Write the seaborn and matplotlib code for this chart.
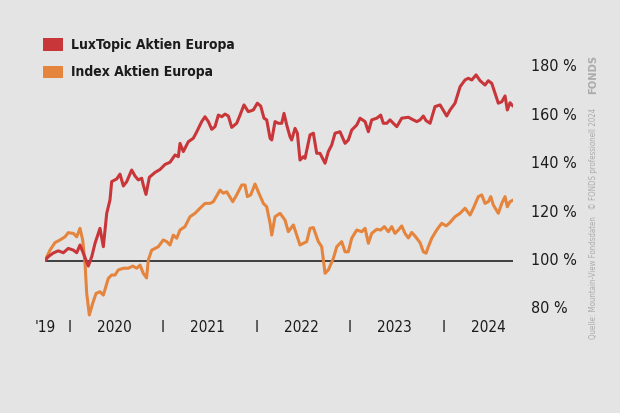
import matplotlib
matplotlib.use("Agg")
import matplotlib.pyplot as plt
import matplotlib.transforms as mtransforms
from matplotlib import font_manager as fm
from matplotlib.patches import Rectangle
import seaborn as sns
import pandas as pd

# ---------------- data (fractional year, percent) ----------------
lux_t = [2019.740, 2019.775, 2019.829, 2019.882, 2019.936, 2019.989, 2020.043, 2020.079, 2020.114, 2020.150,
         2020.203, 2020.240, 2020.275, 2020.328, 2020.364, 2020.400, 2020.435, 2020.453, 2020.507, 2020.542,
         2020.578, 2020.614, 2020.667, 2020.703, 2020.738, 2020.774, 2020.791, 2020.820, 2020.856, 2020.917,
         2020.970, 2021.024, 2021.077, 2021.131, 2021.166, 2021.184, 2021.219, 2021.273, 2021.326, 2021.363,
         2021.416, 2021.451, 2021.487, 2021.523, 2021.558, 2021.594, 2021.630, 2021.665, 2021.701, 2021.737,
         2021.790, 2021.826, 2021.868, 2021.914, 2021.968, 2022.011, 2022.047, 2022.082, 2022.111, 2022.147,
         2022.165, 2022.200, 2022.235, 2022.272, 2022.296, 2022.325, 2022.360, 2022.378, 2022.414, 2022.439,
         2022.467, 2022.503, 2022.521, 2022.574, 2022.610, 2022.646, 2022.681, 2022.735, 2022.770, 2022.806,
         2022.842, 2022.895, 2022.949, 2022.984, 2023.020, 2023.074, 2023.109, 2023.163, 2023.198, 2023.234,
         2023.288, 2023.330, 2023.358, 2023.395, 2023.430, 2023.465, 2023.502, 2023.555, 2023.626, 2023.679,
         2023.716, 2023.751, 2023.786, 2023.815, 2023.858, 2023.911, 2023.965, 2024.036, 2024.072, 2024.125,
         2024.179, 2024.232, 2024.267, 2024.304, 2024.350, 2024.393, 2024.446, 2024.481, 2024.518, 2024.553,
         2024.588, 2024.625, 2024.660, 2024.684, 2024.713, 2024.745]
lux_v = [100.0, 101.6, 103.1, 104.0, 103.2, 105.0, 104.3, 103.2, 106.4, 103.0,
         97.7, 101.6, 107.1, 113.3, 105.7, 119.5, 125.0, 132.6, 133.7, 135.7,
         130.8, 132.6, 137.4, 134.9, 133.3, 134.0, 131.2, 127.3, 134.4, 136.4,
         137.6, 139.7, 140.6, 143.6, 142.9, 148.4, 145.0, 149.1, 150.5, 153.2,
         157.4, 159.4, 157.4, 154.2, 155.3, 160.1, 159.4, 160.5, 159.7, 155.0,
         156.7, 160.1, 164.3, 161.5, 162.2, 165.0, 163.8, 158.8, 158.1, 150.5,
         149.8, 157.4, 156.7, 156.7, 160.8, 156.0, 151.2, 149.8, 154.6, 152.6,
         141.5, 142.9, 142.2, 151.9, 152.6, 144.3, 144.3, 140.2, 145.0, 147.7,
         152.6, 153.2, 148.4, 149.8, 153.9, 156.0, 158.8, 157.4, 153.2, 158.1,
         158.8, 160.1, 156.7, 156.7, 158.1, 156.7, 155.3, 158.8, 159.2, 158.1,
         157.4, 158.1, 159.7, 157.8, 156.7, 163.6, 164.3, 159.7, 162.2, 165.0,
         171.8, 174.6, 175.3, 174.6, 176.7, 174.3, 172.5, 174.3, 173.2, 169.1,
         165.0, 165.6, 168.0, 162.2, 165.2, 163.8]

idx_t = [2019.740, 2019.794, 2019.847, 2019.901, 2019.954, 2019.989, 2020.043, 2020.079, 2020.114, 2020.143,
         2020.168, 2020.186, 2020.214, 2020.250, 2020.286, 2020.328, 2020.364, 2020.417, 2020.453, 2020.489,
         2020.524, 2020.578, 2020.631, 2020.678, 2020.721, 2020.756, 2020.791, 2020.826, 2020.845, 2020.881,
         2020.917, 2020.952, 2021.005, 2021.042, 2021.077, 2021.112, 2021.149, 2021.184, 2021.237, 2021.291,
         2021.344, 2021.398, 2021.451, 2021.505, 2021.540, 2021.612, 2021.647, 2021.683, 2021.748, 2021.790,
         2021.844, 2021.879, 2021.904, 2021.940, 2021.986, 2022.021, 2022.075, 2022.111, 2022.147, 2022.165,
         2022.200, 2022.254, 2022.307, 2022.342, 2022.396, 2022.432, 2022.467, 2022.503, 2022.539, 2022.574,
         2022.610, 2022.663, 2022.699, 2022.735, 2022.770, 2022.824, 2022.860, 2022.913, 2022.949, 2022.984,
         2023.020, 2023.074, 2023.127, 2023.163, 2023.198, 2023.234, 2023.288, 2023.330, 2023.369, 2023.412,
         2023.448, 2023.483, 2023.519, 2023.555, 2023.590, 2023.626, 2023.662, 2023.697, 2023.751, 2023.786,
         2023.815, 2023.840, 2023.876, 2023.929, 2023.983, 2024.029, 2024.064, 2024.125, 2024.179, 2024.232,
         2024.286, 2024.321, 2024.374, 2024.411, 2024.446, 2024.481, 2024.507, 2024.535, 2024.588, 2024.625,
         2024.660, 2024.684, 2024.713, 2024.749]
idx_v = [100.0, 104.3, 107.4, 108.5, 109.8, 111.5, 111.2, 109.8, 113.3, 108.5,
         98.8, 86.4, 77.5, 82.3, 86.4, 87.1, 85.7, 92.6, 94.0, 94.0,
         96.1, 96.8, 96.8, 97.7, 96.8, 98.1, 94.7, 92.8, 100.2, 104.3,
         105.0, 105.7, 108.5, 107.8, 106.4, 110.5, 109.2, 112.6, 114.0, 118.1,
         119.5, 121.6, 123.6, 123.6, 124.3, 129.1, 127.8, 128.4, 124.3, 127.1,
         131.2, 131.2, 126.4, 127.1, 131.6, 128.4, 123.6, 122.2, 115.4, 110.5,
         118.1, 119.5, 116.7, 111.9, 114.7, 110.5, 106.4, 107.1, 107.8, 113.3,
         113.6, 107.8, 105.7, 94.7, 96.1, 100.9, 105.7, 107.8, 103.6, 103.6,
         109.2, 112.6, 111.9, 113.3, 107.1, 111.2, 112.9, 112.6, 114.0, 111.9,
         114.0, 111.2, 112.6, 114.3, 111.2, 109.3, 111.6, 110.1, 107.4, 103.6,
         103.0, 105.7, 109.2, 112.6, 115.4, 114.3, 115.4, 118.1, 119.5, 121.6,
         118.8, 121.6, 126.4, 127.1, 123.6, 124.3, 126.4, 122.9, 119.5, 123.6,
         126.4, 122.2, 124.3, 125.0]

series_names = ["LuxTopic Aktien Europa", "Index Aktien Europa"]
y_ticks = [80, 100, 120, 140, 160, 180]
year_labels = ["2020", "2021", "2022", "2023", "2024"]
year_starts = [2020, 2021, 2022, 2023, 2024]
start_label = "'19"
source_text = "Quelle: Mountain-View Fondsdaten   \u00a9 FONDS professionell 2024"

# ---------------- style ----------------
BG = "#e4e4e4"
RED = "#c9363a"
ORANGE = "#e5843c"
TXT = "#1b1b1b"
GREY = "#ababab"

sns.set_theme(style="white")

# look for a condensed / narrow face
cond = None
for f in fm.fontManager.ttflist:
    nm = f.name.lower()
    if ("narrow" in nm or "condensed" in nm or f.stretch in ("condensed", "semi-condensed")) and f.name in (
            "DejaVu Sans", "Liberation Sans Narrow", "DejaVu Sans Condensed", "Noto Sans",
            "Roboto Condensed", "Open Sans Condensed", "Roboto", "Open Sans", "Liberation Sans"):
        cond = (f.name, f.stretch)
        break

if cond is not None:
    FAM = [cond[0], "DejaVu Sans"]
    STRETCH = cond[1] if cond[1] != "normal" else "condensed"
    s_tick, s_leg, s_year, s_src = 11.5, 10.0, 11.0, 5.7
else:
    FAM = ["Roboto", "DejaVu Sans"]
    STRETCH = "normal"
    s_tick, s_leg, s_year, s_src = 10.5, 9.5, 10.0, 5.4
plt.rcParams["font.family"] = FAM
plt.rcParams["font.stretch"] = STRETCH

fig = plt.figure(figsize=(6.2, 4.13), dpi=100, facecolor=BG)
W, H = 620, 413
ax = fig.add_axes([45 / W, 1 - 320 / H, (513 - 45) / W, (320 - 55) / H])
ax.set_facecolor(BG)
ax.patch.set_alpha(0)
x0, x1 = min(lux_t[0], idx_t[0]), 2024.745
ax.set_xlim(x0, x1)
ax.set_ylim(100 - (320 - 260.5) / 2.42, 100 + (260.5 - 55) / 2.42)

df = pd.concat([
    pd.DataFrame({"t": idx_t, "v": idx_v, "s": series_names[1]}),
    pd.DataFrame({"t": lux_t, "v": lux_v, "s": series_names[0]}),
])

ax.axhline(100, color="#111111", lw=1.1, zorder=1)
sns.lineplot(data=df, x="t", y="v", hue="s",
             palette={series_names[0]: RED, series_names[1]: ORANGE},
             linewidth=2.2, ax=ax, legend=False, sort=False, estimator=None)
for ln in ax.get_lines()[1:]:
    ln.set_zorder(3)

for s in ax.spines.values():
    s.set_visible(False)
ax.set_xticks([])
ax.set_yticks([])
ax.set_xlabel("")
ax.set_ylabel("")

# y tick labels on the right
ytr = mtransforms.blended_transform_factory(fig.transFigure, ax.transData)
for v in y_ticks:
    ax.text(531 / W, v, f"{v} %", transform=ytr, ha="left", va="center",
            fontsize=s_tick, color=TXT)

# x labels
xtr = mtransforms.blended_transform_factory(ax.transData, fig.transFigure)
ylab = 1 - 328 / H
ax.text(x0, ylab, start_label, transform=xtr, ha="center", va="center", fontsize=s_year, color=TXT)
for yr in year_starts:
    ax.text(yr, ylab, "I", transform=xtr, ha="center", va="center", fontsize=s_year, color=TXT)
for yr, lab in zip(year_starts, year_labels):
    ax.text(yr + 0.48, ylab, lab, transform=xtr, ha="center", va="center", fontsize=s_year, color=TXT)

# legend
for i, (name, col) in enumerate(zip(series_names, [RED, ORANGE])):
    ytop = 38 + i * 27.5
    fig.patches.append(Rectangle((43 / W, 1 - (ytop + 12.5) / H), 20 / W, 12.5 / H,
                                 transform=fig.transFigure, facecolor=col, edgecolor="none"))
    fig.text(71 / W, 1 - (ytop + 6.5) / H, name, ha="left", va="center",
             fontsize=s_leg, fontweight="bold", color=TXT)

# vertical source / copyright text and logo
fig.text(593 / W, 1 - 339 / H, source_text,
         rotation=90, ha="center", va="bottom", fontsize=s_src, color=GREY)
fig.text(593 / W, 1 - 55 / H, "FONDS", rotation=90, ha="center", va="top",
         fontsize=8, fontweight="bold", color=GREY)

fig.savefig("out.png", dpi=100, facecolor=BG)
